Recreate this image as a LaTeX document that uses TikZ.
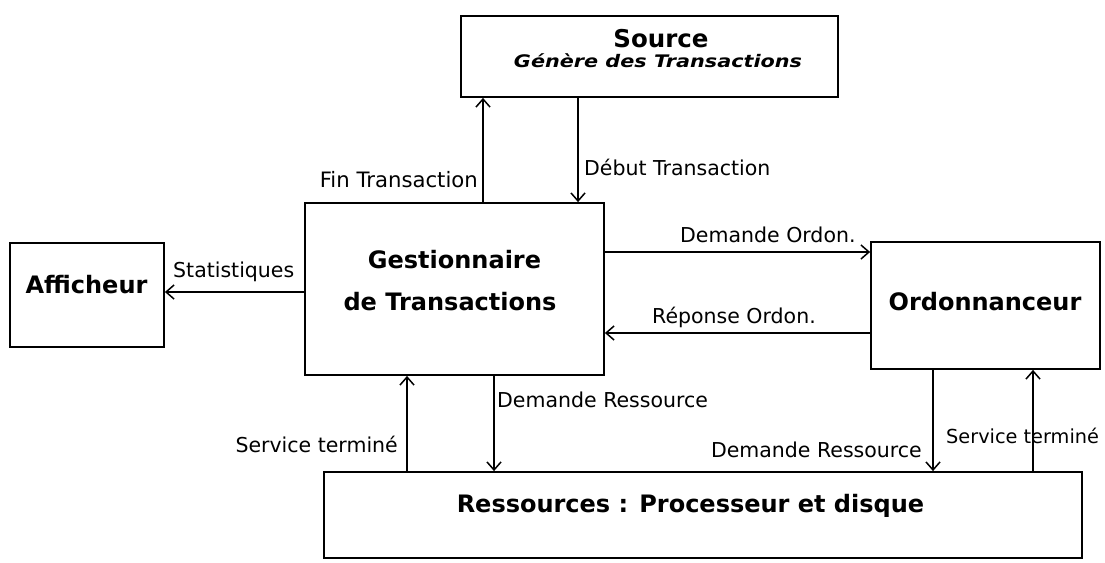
\documentclass[tikz,border=0pt]{standalone}
\usepackage{fontspec}
\setmainfont{DejaVu Sans}
\newfontfamily\widefont[FakeStretch=1.2]{DejaVu Sans}
\usetikzlibrary{arrows.meta}

\tikzset{
  box/.style 2 args={draw, line width=1.8pt, minimum width=#1pt, minimum height=#2pt, inner sep=0pt},
  lab/.style={font=\fontsize{20.5}{24}\selectfont, inner sep=0pt},
  ttl/.style={font=\fontsize{24}{28}\selectfont\bfseries, inner sep=0pt},
  flow/.style={line width=1.5pt, -{Straight Barb[length=8pt,width=14pt,line width=1.5pt]}},
}

\begin{document}
\begin{tikzpicture}[x=1pt,y=-1pt]
\useasboundingbox (0,0) rectangle (1105,562);

% blocks
\node[box={377}{81}]  (src)  at (649.5,56.5) {};
\node[box={154}{104}] (aff)  at (87,295)     {};
\node[box={299}{172}] (gest) at (454.5,289)  {};
\node[box={229}{127}] (ord)  at (985.5,305.5){};
\node[box={758}{86}]  (res)  at (703,515)    {};

% block titles
\node[ttl, anchor=base, font=\fontsize{24.5}{28}\selectfont\bfseries] (srcT) at (661,47) {Source};
\node[inner sep=0pt, anchor=base, font=\widefont\fontsize{17.3}{20}\selectfont\bfseries\itshape] (srcS) at (658,67) {Génère des Transactions};
\node[ttl, anchor=base] (affT)   at (86.5,293) {Afficheur};
\node[ttl, anchor=base] (gestT1) at (454.5,268) {Gestionnaire};
\node[ttl, anchor=base] (gestT2) at (450,310) {de Transactions};
\node[ttl, anchor=base] (ordT)   at (985,310) {Ordonnanceur};
\node[ttl, anchor=base] (resT)   at (690.5,512) {Ressources : Processeur et disque};

% connector columns and rows
\coordinate (cfin)  at (483,0);
\coordinate (cdeb)  at (578,0);
\coordinate (cserv) at (407,0);
\coordinate (cdres) at (494,0);
\coordinate (cdro)  at (933,0);
\coordinate (csro)  at (1033,0);
\coordinate (rstat) at (0,292);
\coordinate (rdord) at (0,252);
\coordinate (rrep)  at (0,333);

% connectors
\draw[flow] (cfin |- gest.north) -- (cfin |- src.south);
\draw[flow] (cdeb |- src.south) -- (cdeb |- gest.north);
\draw[flow] (gest.west |- rstat) -- (aff.east |- rstat);
\draw[flow] (gest.east |- rdord) -- (ord.west |- rdord);
\draw[flow] (ord.west |- rrep) -- (gest.east |- rrep);
\draw[flow] (cserv |- res.north) -- (cserv |- gest.south);
\draw[flow] (cdres |- gest.south) -- (cdres |- res.north);
\draw[flow] (cdro |- ord.south) -- (cdro |- res.north);
\draw[flow] (csro |- res.north) -- (csro |- ord.south);

% connector labels
\node[lab, anchor=base east, font=\fontsize{21.2}{24}\selectfont] (finL) at (478,187) {Fin Transaction};
\node[lab, anchor=base west] (debL)   at (584,175) {Début Transaction};
\node[lab, anchor=base west] (statL)  at (173,277) {Statistiques};
\node[lab, anchor=base west] (dordL)  at (680,242) {Demande Ordon.};
\node[lab, anchor=base west] (repL)   at (652,323) {Réponse Ordon.};
\node[lab, anchor=base west] (dres1L) at (497,407) {Demande Ressource};
\node[lab, anchor=base east] (serv1L) at (398,452) {Service terminé};
\node[lab, anchor=base east] (dres2L) at (922,457) {Demande Ressource};
\node[lab, anchor=base west, font=\fontsize{19.3}{22}\selectfont] (serv2L) at (946,443) {Service terminé};
\end{tikzpicture}
\end{document}
